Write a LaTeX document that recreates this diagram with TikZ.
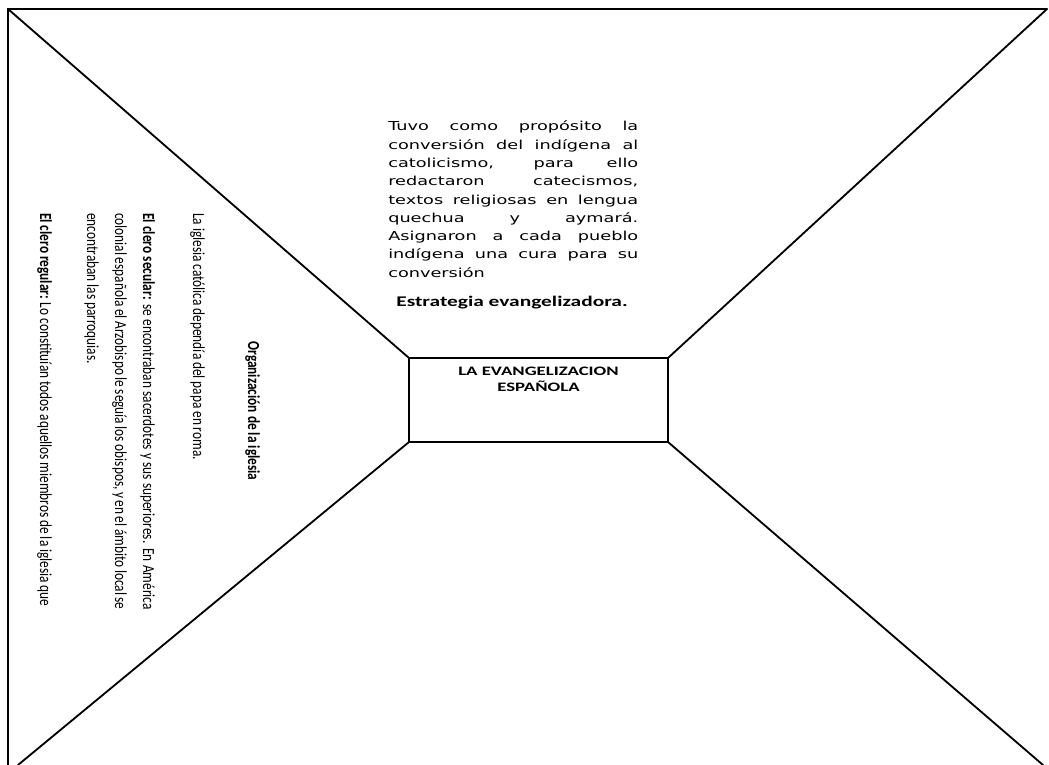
\documentclass[tikz,border=0pt]{standalone}
\usepackage{fontspec}
\setmainfont{Carlito}
\newfontfamily\purposefont[FakeStretch=1.43]{DejaVu Sans}
\newfontfamily\headfont[FakeStretch=1.45]{Carlito}
\newfontfamily\sidefont[FakeStretch=0.79]{Carlito}
\newcommand{\tightspaces}{\spaceskip=0.17em plus 0.4em minus 0.05em\relax\hyphenpenalty=10000\relax}
\usetikzlibrary{positioning}

\begin{document}
\begin{tikzpicture}[
    x=0.25mm, y=-0.25mm,
    edge/.style={line width=1.3pt, line cap=round},
    box/.style={draw, line width=1.3pt, minimum width=64.75mm, minimum height=21mm, inner sep=0pt, outer sep=0pt},
    boxtitle/.style={align=center, inner sep=0pt, font=\headfont\bfseries\fontsize{9.2}{11.4}\selectfont},
    purpose/.style={text width=177.8pt, align=justify, inner sep=0pt, anchor=base west, font=\purposefont\fontsize{8.8}{13}\selectfont},
    strategy/.style={inner sep=0pt, anchor=base, font=\headfont\bfseries\fontsize{10.5}{12}\selectfont},
    sidehead/.style={rotate=-90, inner sep=0pt, anchor=base, font=\sidefont\bfseries\fontsize{12}{20}\selectfont},
    sidetext/.style={rotate=-90, text width=282pt, align=justify, inner sep=0pt, anchor=base west, font=\sidefont\fontsize{12}{19.9}\selectfont\tightspaces}
  ]
  \useasboundingbox (0,0) rectangle (1049,765);
  \coordinate (topleft) at (8,9);
  \coordinate (topright) at (1047,9);
  \coordinate (bottomleft) at (8,765);
  \coordinate (footleft) at (18,765);
  \coordinate (footright) at (1043,765);

  \node[box] (evang) at (538.5,400) {};
  \node[boxtitle, below=2.2mm of evang.north] (evangtitle) {LA EVANGELIZACION\\ESPAÑOLA};

  \node[purpose] (purpose) at (388,131) {Tuvo como propósito la\linebreak
    conversión del indígena al\linebreak
    catolicismo, para ello\linebreak
    redactaron catecismos,\linebreak
    textos religiosas en lengua\linebreak
    quechua y aymará.\linebreak
    Asignaron a cada pueblo\linebreak
    indígena una cura para su\linebreak
    conversión};
  \node[strategy] (strategy) at (512,307) {Estrategia evangelizadora.};

  \node[sidehead] (orghead) at (248,411) {Organización de la iglesia};
  \node[sidetext] (papa) at (193,213) {La iglesia católica dependía del papa en roma.};
  \node[sidetext] (secular) at (143,213) {\textbf{El clero secular:} se encontraban sacerdotes y sus superiores. En América\linebreak
    colonial española el Arzobispo le seguía los obispos, y en el ámbito local se\linebreak
    encontraban las parroquias.};
  \node[sidetext] (regular) at (40,213) {\parfillskip=0pt\relax \textbf{El clero regular:} Lo constituían todos aquellos miembros de la iglesia que};

  \draw[edge] (bottomleft) -- (topleft) -- (topright);
  \draw[edge] (topleft) -- (evang.north west);
  \draw[edge] (topright) -- (evang.north east);
  \draw[edge] (footleft) -- (evang.south west);
  \draw[edge] (footright) -- (evang.south east);
\end{tikzpicture}
\end{document}
